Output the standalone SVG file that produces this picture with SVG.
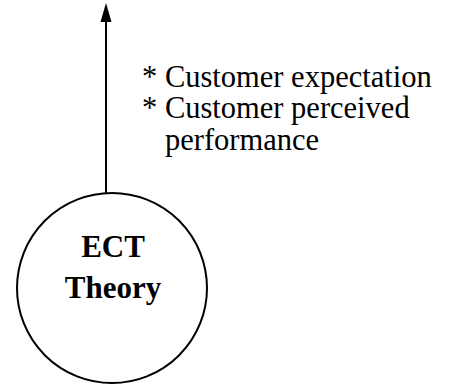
<svg xmlns="http://www.w3.org/2000/svg" width="452" height="385" viewBox="0 0 452 385">
<defs>
<style>
.lbl{font-family:"Liberation Serif","Times New Roman",serif;font-size:30.5px;fill:#000}
.node{font-family:"Liberation Serif","Times New Roman",serif;font-size:31px;font-weight:bold;fill:#000;text-anchor:middle}
</style>
</defs>
<g id="connectors">
<line x1="106" y1="193" x2="106" y2="22" stroke="#000" stroke-width="2"/>
<path d="M100.5,22 L106,3 L111.5,22 Z" fill="#000"/>
</g>
<g id="ect">
<circle cx="112" cy="288" r="95" fill="#fff" stroke="#000" stroke-width="2"/>
<text class="node" x="113" y="257">ECT</text>
<text class="node" x="113" y="298">Theory</text>
</g>
<g id="label">
<text class="lbl" x="142" y="87">* Customer expectation</text>
<text class="lbl" x="142" y="118">* Customer perceived</text>
<text class="lbl" x="165" y="150">performance</text>
</g>
</svg>
